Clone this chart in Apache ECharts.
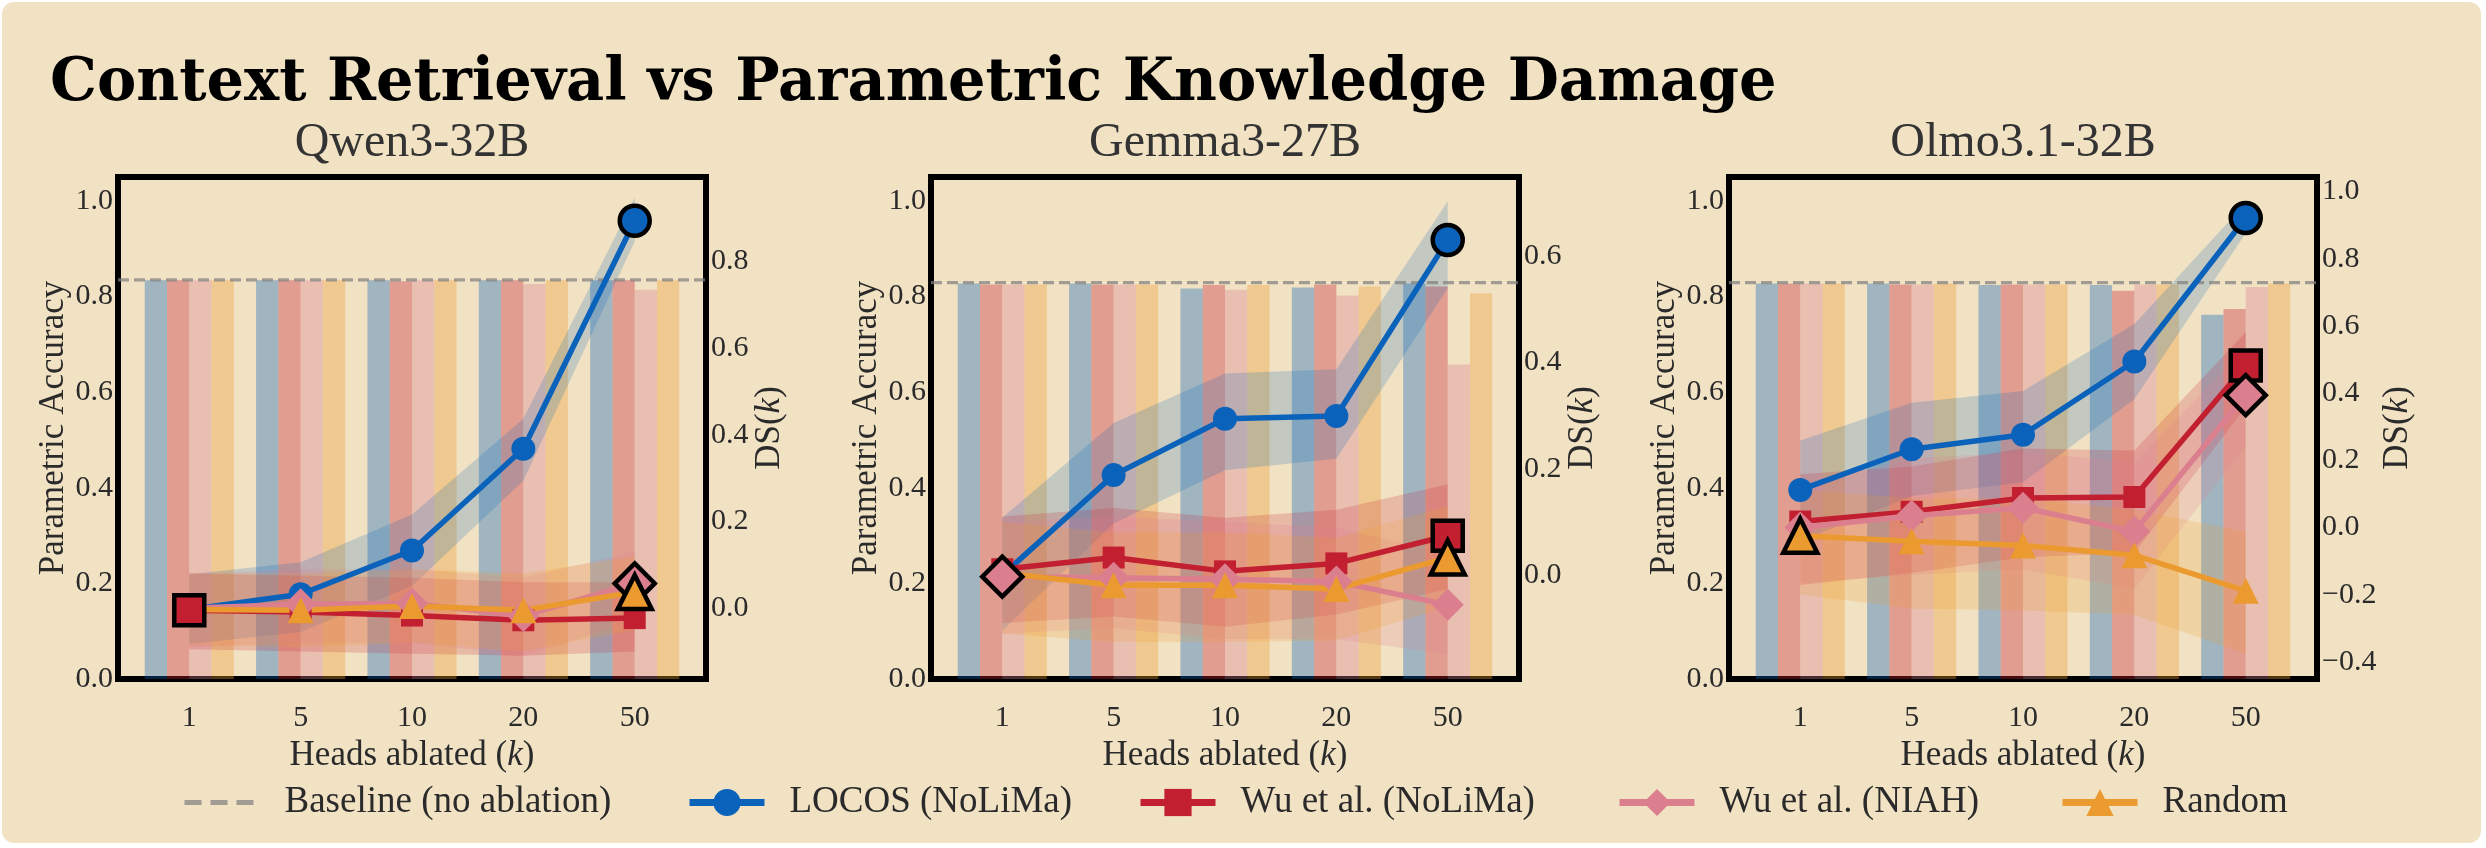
<!DOCTYPE html>
<html><head><meta charset="utf-8">
<script src="https://cdn.jsdelivr.net/npm/echarts@6/dist/echarts.min.js"></script>
<style>
html,body{margin:0;padding:0;background:#ffffff;}
#card{position:absolute;left:2px;top:2px;width:2479px;height:841px;border-radius:12px;background:#F2E2C4;}
#chart{position:absolute;left:0;top:0;width:2486px;height:848px;}
</style></head><body>
<div id="card"></div><div id="chart"></div>
<script>
// ---------------- DATA ----------------
const mainTitle = 'Context Retrieval vs Parametric Knowledge Damage';
const categories = ['1', '5', '10', '20', '50'];
const models = ['Qwen3-32B', 'Gemma3-27B', 'Olmo3.1-32B'];
const methods = ['LOCOS (NoLiMa)', 'Wu et al. (NoLiMa)', 'Wu et al. (NIAH)', 'Random'];
const baselineName = 'Baseline (no ablation)';
const baselineAcc = [0.835, 0.829, 0.829];

// Parametric accuracy (bars), rows = methods in order above
const qwenAcc = [
  [0.834, 0.834, 0.834, 0.834, 0.834],
  [0.834, 0.834, 0.832, 0.834, 0.834],
  [0.834, 0.834, 0.834, 0.826, 0.814],
  [0.834, 0.834, 0.834, 0.834, 0.834]
];
const gemmaAcc = [
  [0.827, 0.827, 0.817, 0.819, 0.827],
  [0.825, 0.825, 0.824, 0.825, 0.821],
  [0.825, 0.825, 0.814, 0.802, 0.658],
  [0.825, 0.825, 0.824, 0.821, 0.807]
];
const olmoAcc = [
  [0.827, 0.827, 0.824, 0.824, 0.762],
  [0.827, 0.825, 0.825, 0.812, 0.774],
  [0.827, 0.825, 0.825, 0.825, 0.820],
  [0.827, 0.827, 0.825, 0.825, 0.827]
];

// DS(k) mean (lines)
const qwenDS = [
  [-0.003, 0.032, 0.133, 0.368, 0.894],
  [-0.005, -0.009, -0.017, -0.028, -0.023],
  [0.000, 0.009, 0.011, -0.018, 0.057],
  [-0.003, -0.005, 0.005, -0.005, 0.037]
];
const gemmaDS = [
  [0.000, 0.188, 0.294, 0.299, 0.630],
  [0.011, 0.033, 0.007, 0.022, 0.074],
  [-0.003, -0.005, -0.008, -0.012, -0.056],
  [0.004, -0.019, -0.019, -0.026, 0.033]
];
const olmoDS = [
  [0.112, 0.233, 0.276, 0.494, 0.921],
  [0.018, 0.047, 0.088, 0.091, 0.482],
  [0.000, 0.035, 0.059, -0.012, 0.394],
  [-0.024, -0.041, -0.053, -0.082, -0.188]
];

// DS(k) band lower / upper
const qwenLo = [
  [-0.083, -0.055, 0.051, 0.294, 0.846],
  [-0.095, -0.100, -0.105, -0.110, -0.100],
  [-0.090, -0.080, -0.080, -0.110, -0.030],
  [-0.085, -0.090, -0.080, -0.100, -0.050]
];
const qwenHi = [
  [0.078, 0.106, 0.216, 0.437, 0.947],
  [0.080, 0.075, 0.070, 0.060, 0.060],
  [0.080, 0.090, 0.090, 0.070, 0.130],
  [0.080, 0.080, 0.090, 0.080, 0.120]
];
const gemmaLo = [
  [-0.104, 0.097, 0.197, 0.219, 0.539],
  [-0.090, -0.078, -0.097, -0.074, -0.026],
  [-0.110, -0.100, -0.120, -0.120, -0.149],
  [-0.110, -0.126, -0.126, -0.123, -0.060]
];
const gemmaHi = [
  [0.108, 0.286, 0.379, 0.387, 0.703],
  [0.110, 0.126, 0.108, 0.123, 0.171],
  [0.100, 0.110, 0.100, 0.090, 0.040],
  [0.100, 0.080, 0.080, 0.070, 0.130]
];
const olmoLo = [
  [-0.041, 0.094, 0.135, 0.382, 0.876],
  [-0.171, -0.135, -0.088, -0.076, 0.359],
  [-0.165, -0.141, -0.124, -0.182, 0.241],
  [-0.200, -0.241, -0.247, -0.259, -0.376]
];
const olmoHi = [
  [0.259, 0.371, 0.406, 0.606, 0.965],
  [0.159, 0.182, 0.235, 0.229, 0.582],
  [0.124, 0.206, 0.224, 0.194, 0.535],
  [0.112, 0.088, 0.088, 0.053, -0.012]
];

// Axis tick labels
const leftTicks = [0, 0.2, 0.4, 0.6, 0.8, 1.0];
const rightTicks = [
  [0, 0.2, 0.4, 0.6, 0.8],
  [0, 0.2, 0.4, 0.6],
  [-0.4, -0.2, 0, 0.2, 0.4, 0.6, 0.8, 1.0]
];

// ---------------- STYLE / LAYOUT ----------------
const accData = [qwenAcc, gemmaAcc, olmoAcc];
const dsData = [qwenDS, gemmaDS, olmoDS];
const loData = [qwenLo, gemmaLo, olmoLo];
const hiData = [qwenHi, gemmaHi, olmoHi];
const rightMin = [-0.1635, -0.1954, -0.4505];
const rightMax = [0.995, 0.7486, 1.043];
const leftMax = 1.05;
const xMin = -0.64, xMax = 4.64;

const gridLeft = [118, 931, 1729];
const gridTop = 177, gridW = 588, gridH = 502;

const colors = ['#0A62BB', '#C21F31', '#DB7F8F', '#EB9A2F'];
const rgb = [[10, 98, 187], [194, 31, 49], [219, 127, 143], [235, 154, 47]];
const symbols = ['circle', 'rect', 'diamond', 'triangle'];
const symSize = [24, 22, 32, 26];
const hlSize = [30, 30, 40, 34];
const FONT = 'Liberation Serif, DejaVu Serif, serif';
const TXT = '#2a2a2a';
const barW = gridW / (xMax - xMin) * 0.2;

function rgba(i, a) { return 'rgba(' + rgb[i].join(',') + ',' + a + ')'; }
function fmt(v) { return (v < 0 ? '\u2212' : '') + Math.abs(v).toFixed(1); }

const grids = [], xAxes = [], yAxes = [], series = [];
const richK = { i: { fontStyle: 'italic', fontFamily: FONT, fontSize: 35, color: TXT } };

for (let p = 0; p < 3; p++) {
  grids.push({ left: gridLeft[p], top: gridTop, width: gridW, height: gridH,
    show: true, borderColor: '#000', borderWidth: 6, backgroundColor: 'transparent' });
  xAxes.push({ type: 'value', gridIndex: p, min: xMin, max: xMax,
    axisLine: { show: false }, axisTick: { show: false }, splitLine: { show: false },
    axisLabel: { customValues: [0, 1, 2, 3, 4], formatter: v => categories[Math.round(v)],
      fontFamily: FONT, fontSize: 30, color: TXT, margin: 24 },
    name: 'Heads ablated ({i|k})', nameLocation: 'middle', nameGap: 54,
    nameTextStyle: { fontFamily: FONT, fontSize: 35, color: TXT, rich: richK } });
  yAxes.push({ type: 'value', gridIndex: p, position: 'left', min: 0, max: leftMax,
    axisLine: { show: false }, axisTick: { show: false }, splitLine: { show: false },
    axisLabel: { customValues: leftTicks, formatter: v => v.toFixed(1),
      fontFamily: FONT, fontSize: 30, color: TXT, margin: 5 },
    name: 'Parametric Accuracy', nameLocation: 'middle', nameGap: 42,
    nameTextStyle: { fontFamily: FONT, fontSize: 35, color: TXT } });
  yAxes.push({ type: 'value', gridIndex: p, position: 'right', min: rightMin[p], max: rightMax[p],
    axisLine: { show: false }, axisTick: { show: false }, splitLine: { show: false },
    axisLabel: { customValues: rightTicks[p], formatter: fmt,
      fontFamily: FONT, fontSize: 30, color: TXT, margin: 5 },
    name: 'DS({i|k})', nameLocation: 'middle', nameGap: 42,
    nameTextStyle: { fontFamily: FONT, fontSize: 35, color: TXT, rich: richK } });

  for (let m = 0; m < 4; m++) {
    series.push({ type: 'bar', name: methods[m] + ' acc', xAxisIndex: p, yAxisIndex: 2 * p,
      data: accData[p][m].map((v, i) => [i, v]), barWidth: barW, barGap: '0%', z: 1,
      itemStyle: { color: rgba(m, 0.35) }, silent: true });
  }
  for (let m = 0; m < 4; m++) {
    const lo = loData[p][m], hi = hiData[p][m];
    series.push({ type: 'custom', name: methods[m] + ' band', xAxisIndex: p, yAxisIndex: 2 * p + 1,
      data: lo.map((v, i) => [i, v, hi[i]]), encode: { x: 0, y: [1, 2] }, z: 2, silent: true,
      renderItem: function (params, api) {
        if (params.dataIndex !== 0) return null;
        const pts = [];
        for (let i = 0; i < lo.length; i++) pts.push(api.coord([i, lo[i]]));
        for (let i = hi.length - 1; i >= 0; i--) pts.push(api.coord([i, hi[i]]));
        return { type: 'polygon', shape: { points: pts }, style: { fill: rgba(m, 0.2) } };
      } });
  }
  series.push({ type: 'line', name: baselineName, xAxisIndex: p, yAxisIndex: 2 * p,
    data: [[xMin, baselineAcc[p]], [xMax, baselineAcc[p]]], symbol: 'none', z: 3, silent: true,
    lineStyle: { color: 'rgba(128,128,128,0.72)', width: 3.2, type: [11, 5] },
    itemStyle: { color: 'rgba(128,128,128,0.72)' } });
  for (let m = 0; m < 4; m++) {
    series.push({ type: 'line', name: methods[m], xAxisIndex: p, yAxisIndex: 2 * p + 1,
      data: dsData[p][m].map((v, i) => [i, v]), z: 4, silent: true,
      symbol: symbols[m], symbolSize: symSize[m], showSymbol: true,
      lineStyle: { color: colors[m], width: 5.5 }, itemStyle: { color: colors[m] } });
  }
  for (let m = 0; m < 4; m++) {
    const arr = dsData[p][m];
    let k = 0; arr.forEach((v, i) => { if (v > arr[k]) k = i; });
    series.push({ type: 'scatter', name: 'max-' + m, xAxisIndex: p, yAxisIndex: 2 * p + 1,
      data: [[k, arr[k]]], z: 5, silent: true, symbol: symbols[m], symbolSize: hlSize[m],
      itemStyle: { color: colors[m], borderColor: '#000', borderWidth: 4.5, opacity: 1 } });
  }
}

const legendNames = [baselineName].concat(methods);
const legendLeft = [182, 686, 1137, 1616, 2059];
const legends = legendNames.map((n, i) => ({
  data: [i === 0 ? { name: n, itemStyle: { opacity: 0 } } : n],
  left: legendLeft[i], top: 784, orient: 'horizontal', padding: 0,
  itemWidth: 75, itemHeight: 34, selectedMode: false,
  lineStyle: i === 0 ? { width: 5, type: [17, 9] } : { width: 7 },
  textStyle: { fontFamily: FONT, fontSize: 37, color: TXT, padding: [0, 0, 0, 20] }
}));

const graphics = [
  { type: 'text', left: 50, top: 55, z: 10, style: { text: mainTitle, font: 'bold 59px "DejaVu Serif", serif', fill: '#000' } }
];
for (let p = 0; p < 3; p++) {
  graphics.push({ type: 'text', x: gridLeft[p] + gridW / 2, y: 143, z: 10,
    style: { text: models[p], font: '48px Liberation Serif, DejaVu Serif, serif', fill: '#333', align: 'center', verticalAlign: 'middle' } });
}

const chart = echarts.init(document.getElementById('chart'), null, { renderer: 'canvas' });
chart.setOption({
  backgroundColor: 'transparent',
  animation: false,
  grid: grids, xAxis: xAxes, yAxis: yAxes, series: series,
  legend: legends, graphic: graphics
});
</script>
</body></html>
